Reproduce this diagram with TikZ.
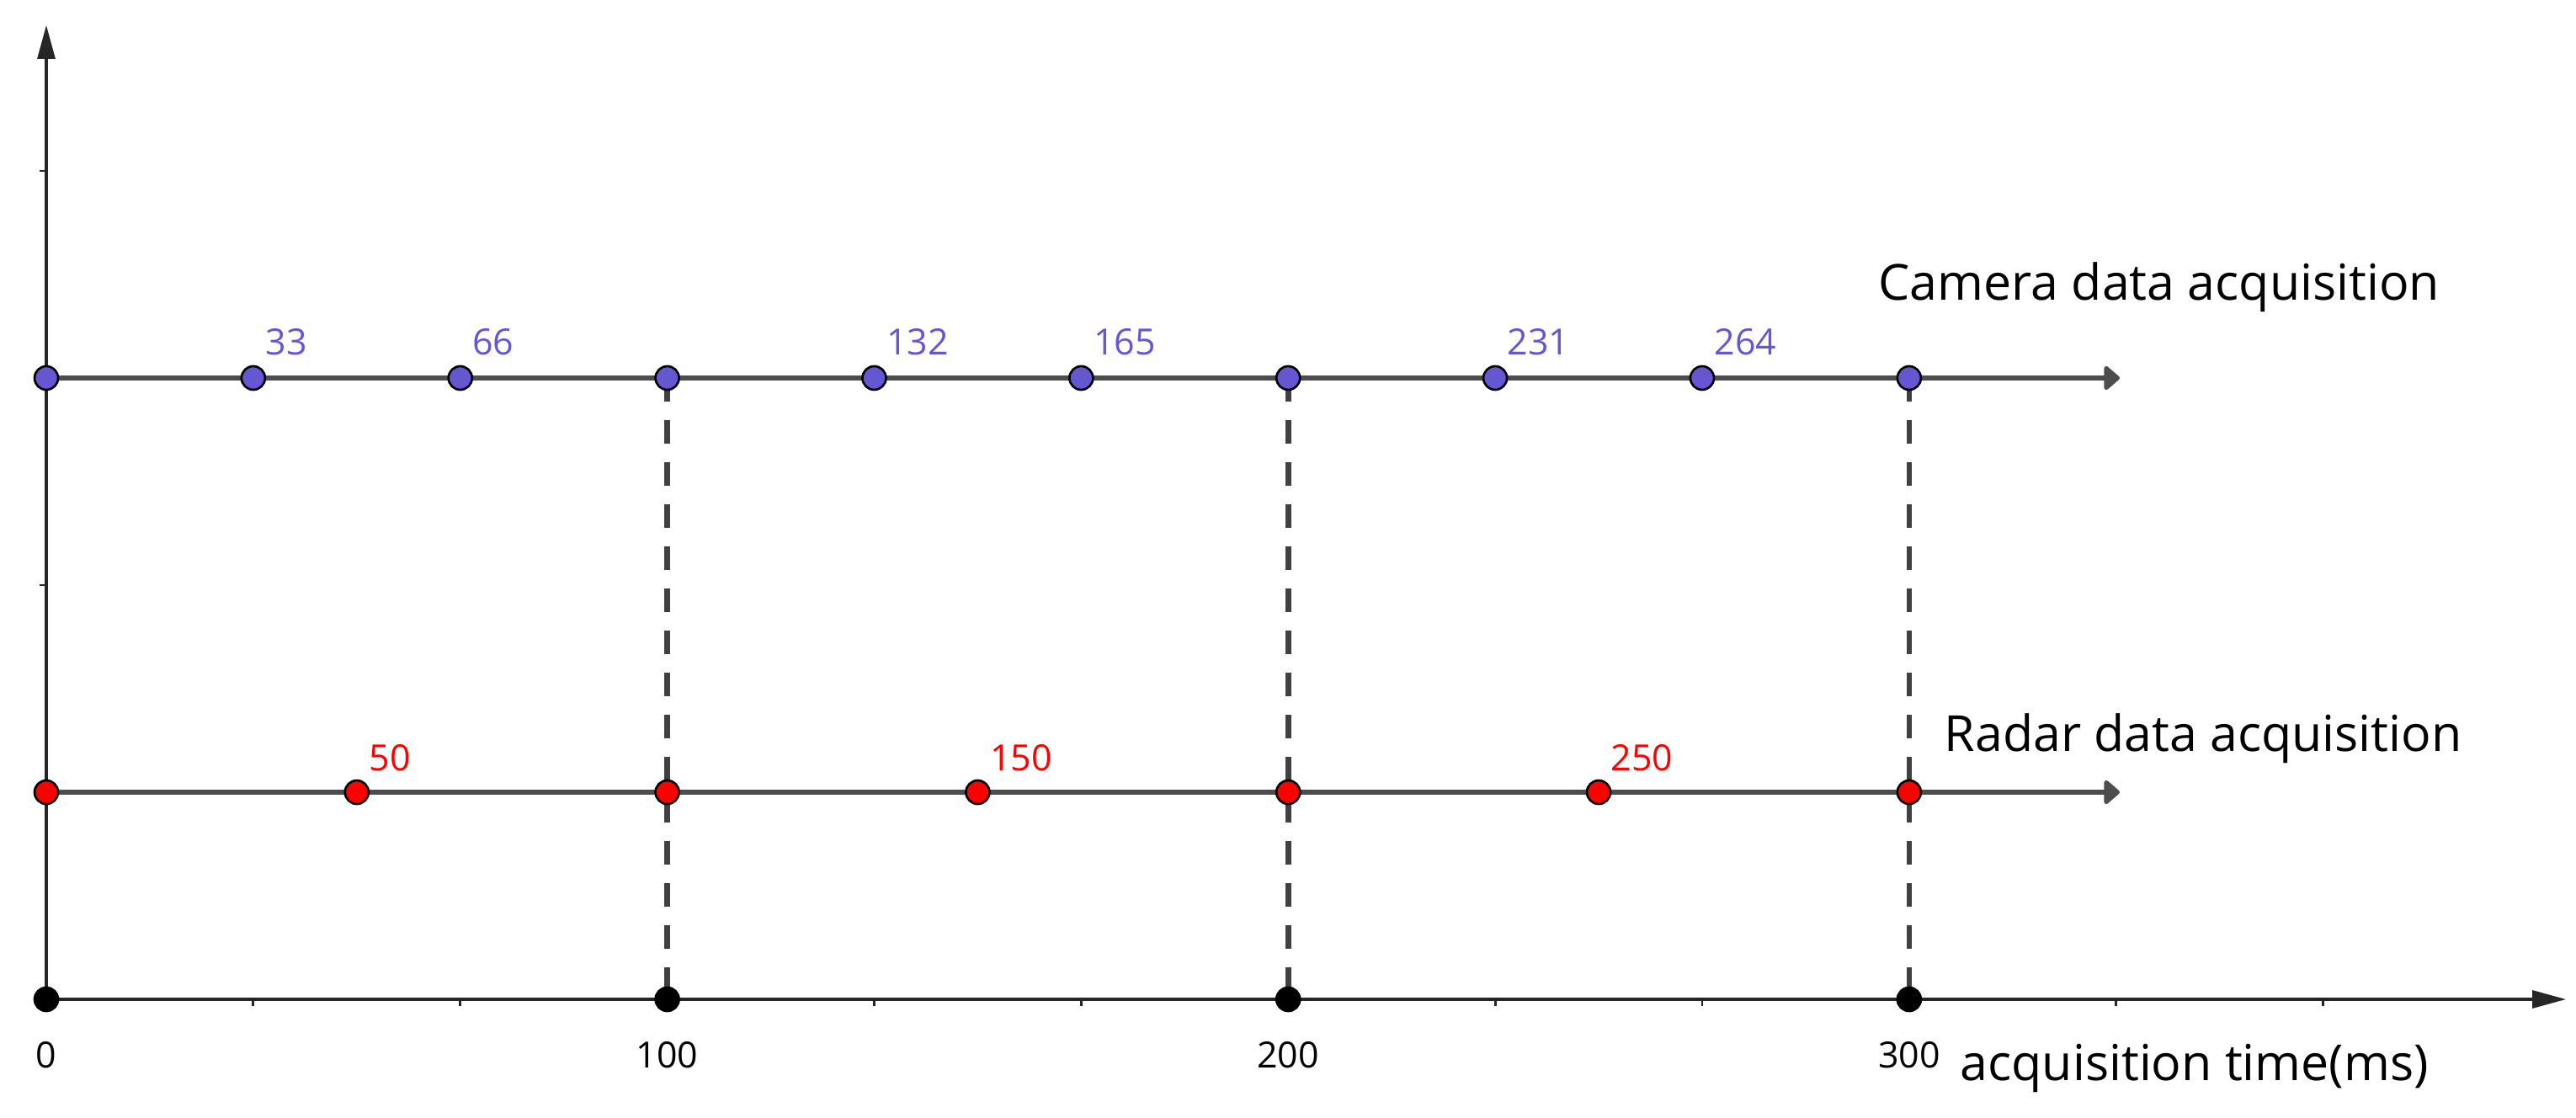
\documentclass[tikz,border=0pt]{standalone}
\usepackage{fontspec}
\setmainfont{Open Sans}
\usetikzlibrary{arrows.meta}
\definecolor{camblue}{RGB}{101,87,210}
\definecolor{linegray}{RGB}{77,77,77}
\definecolor{dashgray}{RGB}{64,64,64}
\begin{document}
\begin{tikzpicture}[x=1cm,y=1cm,
  pt/.style={circle,draw=black,line width=0.75pt,minimum size=0.28cm,inner sep=0pt},
  campt/.style={pt,fill=camblue},
  radpt/.style={pt,fill=red},
  axpt/.style={pt,fill=black},
  trackline/.style={draw=linegray,line width=1.8pt,-{Triangle[length=2mm,width=3.3mm,round]}},
  axisline/.style={draw=black!85,line width=0.9pt,-{Triangle[length=4mm,width=2.1mm]}},
  guide/.style={draw=dashgray,line width=1.9pt,dash pattern=on 0.28cm off 0.22cm},
  tick/.style={draw=black!85,line width=0.8pt},
  numlbl/.style={font=\fontsize{12.2}{14}\selectfont,inner sep=0pt},
  camlbl/.style={numlbl,text=camblue,anchor=base west},
  radlbl/.style={numlbl,text=red,anchor=base west},
  axlbl/.style={numlbl,text=black,anchor=north},
  title/.style={font=\fontsize{16.8}{20}\selectfont,inner sep=0pt,anchor=base west}
]
\useasboundingbox (0,0) rectangle (30.6,13.27);
% coordinates
\foreach \t [count=\i from 0] in {0,33.3333,66.6667,100,133.3333,166.6667,200,233.3333,266.6667,300}
  \coordinate (c\i) at ({0.55+0.073767*\t},8.78);
\foreach \t [count=\i from 0] in {0,50,100,150,200,250,300}
  \coordinate (r\i) at ({0.55+0.073767*\t},3.86);
\foreach \t [count=\i from 0] in {0,100,200,300}
  \coordinate (b\i) at ({0.55+0.073767*\t},1.40);
\coordinate (cend) at (25.18,8.78);
\coordinate (rend) at (25.18,3.86);
\coordinate (xtip) at (30.48,1.40);
\coordinate (ytip) at (0.55,12.97);
% axes
\draw[axisline] (b0) -- (ytip);
\draw[axisline] (b0) -- (xtip);
\foreach \yy in {11.24,8.78,6.32,3.86}
  \draw[tick] (0.55,\yy) -- (0.47,\yy);
\foreach \t in {33.3333,66.6667,133.3333,166.6667,233.3333,266.6667,333.3333,366.6667}
  \draw[tick] ({0.55+0.073767*\t},1.40) -- ({0.55+0.073767*\t},1.32);
% dashed guides
\draw[guide] (c3) -- (b1);
\draw[guide] (c6) -- (b2);
\draw[guide] (c9) -- (b3);
% tracks
\draw[trackline] (c0) -- (cend);
\draw[trackline] (r0) -- (rend);
% points
\foreach \i in {0,...,9} \node[campt] (cp\i) at (c\i) {};
\foreach \i in {0,...,6} \node[radpt] (rp\i) at (r\i) {};
\foreach \i in {0,...,3} \node[axpt] (bp\i) at (b\i) {};
% point labels
\foreach \i/\lab in {1/33,2/66,4/132,5/165,7/231,8/264}
  \node[camlbl] (cl\i) at ([xshift=0.14cm,yshift=0.27cm]c\i) {\lab};
\foreach \i/\lab in {1/50,3/150,5/250}
  \node[radlbl] (rl\i) at ([xshift=0.14cm,yshift=0.26cm]r\i) {\lab};
\foreach \i/\lab in {0/0,1/100,2/200,3/300}
  \node[axlbl] (bl\i) at ([yshift=-0.50cm]b\i) {\lab};
% titles
\node[title] (camtitle) at (22.31,9.70) {Camera data acquisition};
\node[title] (radtitle) at (23.09,4.35) {Radar data acquisition};
\node[title] (timetitle) at (23.28,0.44) {acquisition time(ms)};
\end{tikzpicture}
\end{document}
